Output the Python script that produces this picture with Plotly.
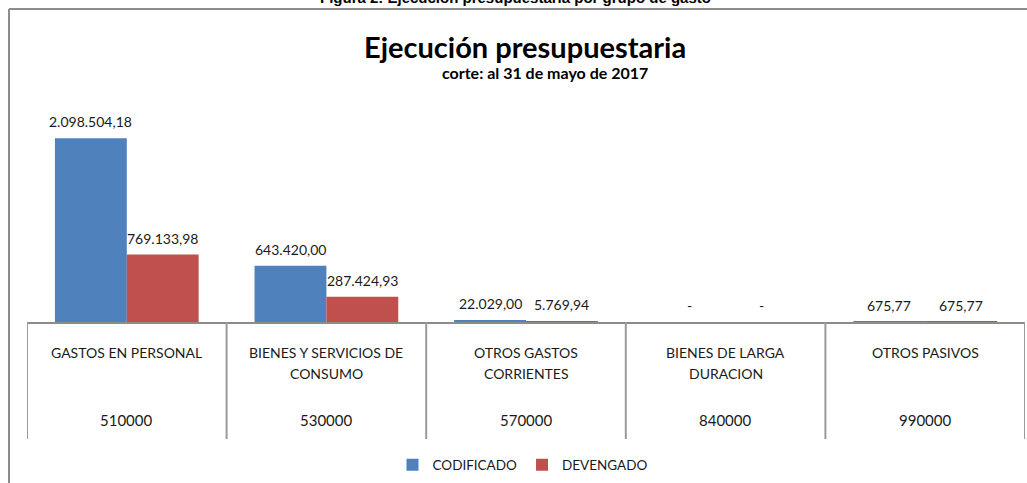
import plotly.graph_objects as go

# data
names = ["GASTOS EN PERSONAL", "BIENES Y SERVICIOS DE<br>CONSUMO", "OTROS GASTOS<br>CORRIENTES",
         "BIENES DE LARGA<br>DURACION", "OTROS PASIVOS"]
codes = ["510000", "530000", "570000", "840000", "990000"]
codificado = [2098504.18, 643420.00, 22029.00, 0, 675.77]
devengado = [769133.98, 287424.93, 5769.94, 0, 675.77]

W, H = 1027, 483
L, R, T, B = 27, 2, 103, 161
FONT = "Lato"
INK = "#1a1a1a"
BARGAP = 0.28


def fmt(v):
    if v == 0:
        return "-"
    s = f"{v:,.2f}"
    return s.replace(",", "X").replace(".", ",").replace("X", ".")


def py(p):
    # pixel row -> paper y
    return (H - B - p) / (H - T - B)


def px(p):
    # pixel column -> paper x
    return (p - L) / (W - L - R)


x = list(range(len(names)))
series = [(codificado, "CODIFICADO", "#4F81BD", -1), (devengado, "DEVENGADO", "#C0504D", 1)]

fig = go.Figure()
for vals, name, color, side in series:
    fig.add_trace(go.Bar(x=x, y=vals, name=name, marker=dict(color=color, line=dict(width=0))))
    # value labels sit a little higher than plotly's own outside text
    for i, v in enumerate(vals):
        fig.add_annotation(x=i + side * (1 - BARGAP) / 4, y=v, xref="x", yref="y",
                           text=fmt(v), yanchor="bottom", yshift=6, showarrow=False,
                           font=dict(family=FONT, size=14, color=INK))

gray = "#8c8c8c"
# table lines under the axis
for i in range(len(names) + 1):
    fig.add_shape(type="line", xref="x", yref="paper", x0=i - 0.5, x1=i - 0.5,
                  y0=0, y1=py(439), line=dict(color="#9a9a9a", width=2))
# outer chart frame
fig.add_shape(type="line", xref="paper", yref="paper", x0=px(9), x1=px(9),
              y0=py(9), y1=py(490), line=dict(color=gray, width=2))
fig.add_shape(type="line", xref="paper", yref="paper", x0=px(9), x1=px(1030),
              y0=py(9), y1=py(9), line=dict(color=gray, width=2))

# category labels
for i, (n, c) in enumerate(zip(names, codes)):
    for j, line in enumerate(n.split("<br>")):
        fig.add_annotation(x=i, y=py(352 + 21 * j), xref="x", yref="paper", text=line,
                           yanchor="middle", showarrow=False,
                           font=dict(family=FONT, size=14, color=INK))
    fig.add_annotation(x=i, y=py(420), xref="x", yref="paper", text=c,
                       yanchor="middle", showarrow=False,
                       font=dict(family=FONT, size=15, color=INK))

# titles
fig.add_annotation(x=px(515), y=py(8), xref="paper", yref="paper", yanchor="bottom",
                   text="<b>Figura 2: Ejecución presupuestaria por grupo de gasto</b>",
                   showarrow=False, font=dict(family="Liberation Sans", size=15, color="black"))
fig.add_annotation(x=px(525), y=py(46), xref="paper", yref="paper", yanchor="middle",
                   text="<b>Ejecución presupuestaria</b>", showarrow=False,
                   font=dict(family=FONT, size=29, color="black"))
fig.add_annotation(x=px(545), y=py(73), xref="paper", yref="paper", yanchor="middle",
                   text="<b>corte: al 31 de mayo de 2017</b>", showarrow=False,
                   font=dict(family=FONT, size=16, color="black"))

fig.update_layout(
    width=W, height=H,
    margin=dict(l=L, r=R, t=T, b=B),
    plot_bgcolor="white", paper_bgcolor="white",
    barmode="group", bargap=BARGAP, bargroupgap=0,
    showlegend=True,
    legend=dict(orientation="h", x=px(523), xanchor="center", y=py(465), yanchor="middle",
                font=dict(family=FONT, size=13.5, color=INK), itemwidth=30),
    xaxis=dict(range=[-0.5, len(names) - 0.5], showticklabels=False, showgrid=False,
               zeroline=False, showline=True, linecolor=gray, linewidth=2, ticks=""),
    yaxis=dict(range=[0, 2500000], visible=False, showgrid=False, zeroline=False),
)

# drop the page's default 8px body margin so the figure fills the window
fig.write_html("out.html", config={"displayModeBar": False},
               post_script="document.body.style.margin = '0';")
